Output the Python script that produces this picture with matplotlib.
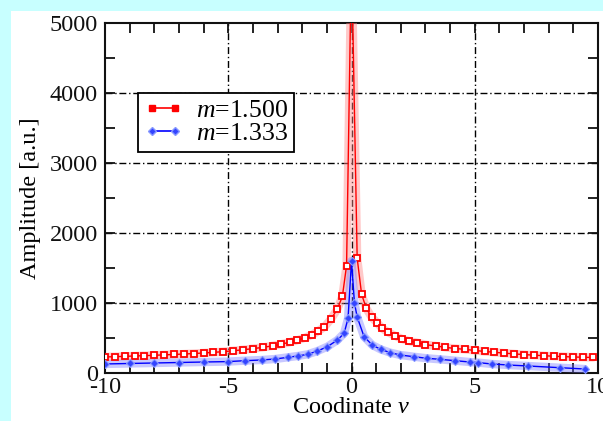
import matplotlib
matplotlib.use("Agg")
import matplotlib.pyplot as plt
from matplotlib.lines import Line2D
from matplotlib.ticker import MultipleLocator

plt.rcParams['font.family'] = ['Liberation Serif', 'DejaVu Serif']
plt.rcParams['mathtext.fontset'] = 'custom'
plt.rcParams['mathtext.rm'] = 'Liberation Serif'
plt.rcParams['mathtext.it'] = 'Liberation Serif:italic'

# ---- data ----
red_label = "$m$=1.500"
red_x = [-10, -9.6, -9.2, -8.8, -8.4, -8.0, -7.6, -7.2, -6.8, -6.4, -6.0, -5.6, -5.2,
         -4.8, -4.4, -4.0, -3.6, -3.2, -2.85, -2.5, -2.2, -1.9, -1.6, -1.35, -1.1,
         -0.82, -0.57, -0.37, -0.2, 0,
         0.23, 0.41, 0.6, 0.82, 1.04, 1.24, 1.49, 1.76, 2.05, 2.32, 2.66, 3.0, 3.43,
         3.8, 4.2, 4.6, 5.0, 5.4, 5.8, 6.2, 6.6, 7.0, 7.4, 7.8, 8.2, 8.6, 9.0, 9.4, 9.8]
red_y = [229, 233, 238, 243, 248, 253, 259, 265, 271, 278, 286, 295, 305,
         318, 332, 348, 366, 388, 412, 440, 468, 502, 545, 600, 657,
         776, 915, 1095, 1535, 6000,
         1640, 1125, 924, 795, 719, 638, 581, 533, 486, 457, 433, 405, 386,
         367, 350, 338, 322, 308, 296, 284, 273, 263, 255, 247, 240, 234, 229, 225, 222]

blue_label = "$m$=1.333"
blue_x = [-10, -9, -8, -7, -6, -5, -4.33, -3.65, -3.1, -2.58, -2.18, -1.78, -1.38,
          -0.98, -0.57, -0.3, -0.14, 0, 0.12, 0.23, 0.51, 0.84, 1.18, 1.58, 1.98,
          2.52, 3.06, 3.6, 4.2, 4.8, 5.15, 5.69, 6.36, 7.17, 8.45, 9.46]
blue_y = [129, 136, 143, 150, 157, 163, 176, 186, 200, 224, 243, 267, 314,
          376, 471, 567, 780, 1600, 1000, 800, 519, 400, 338, 290, 257,
          233, 210, 195, 176, 157, 148, 129, 114, 100, 76, 57]

x_ticks = [-10, -5, 0, 5, 10]
y_ticks = [0, 1000, 2000, 3000, 4000, 5000]

W, H = 603, 421
fig = plt.figure(figsize=(W / 100, H / 100), dpi=100)
fig.patch.set_facecolor('#C8FFFF')

# white panel behind the chart
bg = fig.add_axes([11 / W, 0, 1 - 11 / W, 1 - 11 / H], zorder=-5)
bg.set_facecolor('white')
bg.set_xticks([])
bg.set_yticks([])
for s in bg.spines.values():
    s.set_visible(False)

ax = fig.add_axes([105 / W, 1 - 373 / H, (598 - 105) / W, (373 - 23) / H], zorder=1)
ax.set_facecolor('white')

# glow underlays
ax.plot(red_x, red_y, color='#FF8888', lw=6, alpha=0.45, zorder=3, solid_capstyle='round')
ax.plot(blue_x, blue_y, color='#7777FF', lw=6, alpha=0.4, zorder=3, solid_capstyle='round')
ax.plot(red_x, red_y, color='red', lw=1.0, marker='s', ms=5, mfc='white',
        mec='red', mew=1.3, zorder=5)
ax.plot(blue_x, blue_y, color='blue', lw=1.0, marker='D', ms=4, mfc='#3344FF',
        mec='#8899FF', mew=0.8, zorder=6)

ax.set_xlim(-10, 10)
ax.set_ylim(0, 5000)
ax.set_xticks(x_ticks)
ax.set_yticks(y_ticks)
ax.set_xticklabels([str(t) for t in x_ticks])
ax.set_yticklabels([str(t) for t in y_ticks])
ax.xaxis.set_minor_locator(MultipleLocator(1))
ax.yaxis.set_minor_locator(MultipleLocator(500))
ax.tick_params(which='both', direction='in', top=True, right=True,
               length=7, width=1.3, labelsize=17.5, colors='#111111')
ax.tick_params(axis='y', pad=5)
ax.tick_params(axis='x', pad=3)
for s in ax.spines.values():
    s.set_linewidth(1.5)
    s.set_color('#111111')

for xv in [-5, 0, 5]:
    ax.axvline(xv, color='black', lw=1.0, ls=(0, (5, 2, 1, 2)), zorder=1)
for yv in [1000, 2000, 3000, 4000]:
    ax.axhline(yv, color='black', lw=1.0, ls=(0, (5, 2, 1, 2)), zorder=1)

ax.set_xlabel("Coodinate $v$", fontsize=17.5, labelpad=-1)
ax.set_ylabel("Amplitude [a.u.]", fontsize=17.5, labelpad=6)

handles = [Line2D([], [], color='red', lw=1.2, marker='s', ms=5, mfc='red', mec='red'),
           Line2D([], [], color='blue', lw=1.2, marker='D', ms=4, mfc='#3344FF', mec='#8899FF')]
leg = ax.legend(handles, [red_label, blue_label], loc='upper left',
                bbox_to_anchor=(0.067, 0.8), borderaxespad=0, fontsize=18.5,
                fancybox=False, framealpha=1, edgecolor='black',
                handlelength=1.5, labelspacing=0.0, borderpad=0.25,
                handletextpad=0.5, numpoints=2)
leg.get_frame().set_linewidth(1.3)
leg.set_zorder(10)

fig.savefig("out.png", dpi=100, facecolor=fig.get_facecolor())
